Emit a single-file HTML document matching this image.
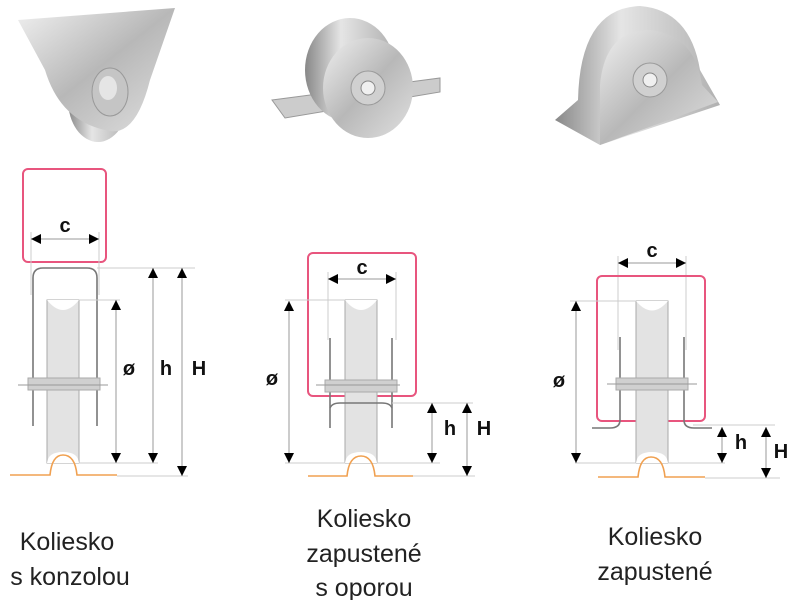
<!DOCTYPE html>
<html><head><meta charset="utf-8"><style>
body{margin:0;background:#fff}
svg{display:block}
text{font-family:"Liberation Sans",sans-serif}
.lab{font-size:25px;fill:#222;text-anchor:middle}
.b{font-size:20px;font-weight:bold;fill:#111;text-anchor:middle}
.ext{stroke:#ccc;stroke-width:1;fill:none}
.dim{stroke:#999;stroke-width:1}
.pink{fill:none;stroke:#e8557e;stroke-width:2}
.wh{fill:#e3e3e3;stroke:#aaa;stroke-width:1}
.ax{fill:#d0d0d0;stroke:#aaa;stroke-width:1}
.pl{stroke:#777;stroke-width:1.6;fill:none}
.rail{stroke:#f0a050;stroke-width:1.6;fill:none}
</style></head><body>
<svg width="789" height="600" viewBox="0 0 789 600" xmlns="http://www.w3.org/2000/svg">
<defs>
<linearGradient id="m" x1="0" y1="0" x2="1" y2="1"><stop offset="0" stop-color="#f0f0f0"/><stop offset=".5" stop-color="#b8b8b8"/><stop offset="1" stop-color="#e0e0e0"/></linearGradient>
<linearGradient id="m2" x1="0" y1="0" x2="1" y2="0"><stop offset="0" stop-color="#888"/><stop offset=".4" stop-color="#e5e5e5"/><stop offset="1" stop-color="#b0b0b0"/></linearGradient>
<marker id="a" viewBox="0 0 10 10" refX="10" refY="5" markerWidth="10" markerHeight="10" markerUnits="userSpaceOnUse" orient="auto-start-reverse"><path d="M0,0L10,5L0,10z" fill="#000"/></marker>
</defs>
<!-- photos -->
<ellipse cx="98" cy="100" rx="30" ry="42" fill="url(#m2)"/>
<path d="M18,20 L175,8 L150,80 Q135,140 105,130 Q60,120 45,70z" fill="url(#m)"/>
<ellipse cx="110" cy="92" rx="18" ry="24" fill="#c5c5c5" stroke="#999"/>
<ellipse cx="108" cy="88" rx="9" ry="12" fill="#e5e5e5"/>
<path d="M272,100 L440,78 L440,92 L285,118z" fill="#ccc" stroke="#999"/>
<ellipse cx="350" cy="70" rx="45" ry="52" fill="url(#m2)"/>
<ellipse cx="368" cy="88" rx="45" ry="50" fill="url(#m)"/>
<circle cx="368" cy="88" r="17" fill="#d0d0d0" stroke="#999"/>
<circle cx="368" cy="88" r="7" fill="#f0f0f0" stroke="#888"/>
<path d="M578,100 Q580,8 640,6 Q690,10 700,70 L720,105 L600,145 L555,120z" fill="url(#m2)"/>
<path d="M600,145 L600,85 Q605,30 650,30 Q695,35 702,85 L718,102z" fill="url(#m)"/>
<circle cx="650" cy="80" r="17" fill="#d0d0d0" stroke="#999"/>
<circle cx="650" cy="80" r="7" fill="#f0f0f0" stroke="#888"/>

<!-- Panel 1 -->
<rect class="pink" x="23" y="169" width="83" height="93" rx="5"/>
<line class="ext" x1="31" y1="232" x2="31" y2="295"/><line class="ext" x1="99" y1="232" x2="99" y2="295"/>
<line class="dim" x1="31" y1="239" x2="99" y2="239" marker-start="url(#a)" marker-end="url(#a)"/>
<text class="b" x="65" y="232">c</text>
<path class="pl" d="M33,426 L33,278 Q33,268 43,268 L87,268 Q97,268 97,278 L97,426" stroke="#888"/>
<rect class="wh" x="47" y="300" width="32" height="163"/>
<path d="M47,300 Q63,320 79,300z" fill="#fff"/>
<path d="M47,463 Q48,452 63,452 Q78,452 79,463z" fill="#fff"/>
<rect class="ax" x="28" y="378" width="72" height="12"/>
<line class="dim" x1="18" y1="385" x2="108" y2="385"/>
<line class="ext" x1="97" y1="268" x2="195" y2="268"/><line class="ext" x1="79" y1="300" x2="120" y2="300"/>
<line class="ext" x1="79" y1="463" x2="158" y2="463"/><line class="ext" x1="117" y1="476" x2="188" y2="476"/>
<line class="dim" x1="116" y1="300" x2="116" y2="463" marker-start="url(#a)" marker-end="url(#a)"/>
<line class="dim" x1="153" y1="268" x2="153" y2="463" marker-start="url(#a)" marker-end="url(#a)"/>
<line class="dim" x1="182" y1="268" x2="182" y2="476" marker-start="url(#a)" marker-end="url(#a)"/>
<text class="b" x="129" y="375">ø</text><text class="b" x="166" y="375">h</text><text class="b" x="199" y="375">H</text>
<path class="rail" d="M10,475 L50,475 Q52,455 63,455 Q75,455 77,475 L117,475"/>

<!-- Panel 2 -->
<rect class="pink" x="308" y="253" width="108" height="143" rx="5"/>
<line class="ext" x1="328" y1="272" x2="328" y2="340"/><line class="ext" x1="396" y1="272" x2="396" y2="340"/>
<line class="dim" x1="328" y1="279" x2="396" y2="279" marker-start="url(#a)" marker-end="url(#a)"/>
<text class="b" x="362" y="274">c</text>
<rect class="wh" x="345" y="300" width="32" height="163"/>
<path d="M345,300 Q361,320 377,300z" fill="#fff"/>
<path d="M345,463 Q346,452 361,452 Q376,452 377,463z" fill="#fff"/>
<line class="pl" x1="330" y1="338" x2="330" y2="428"/><line class="pl" x1="392" y1="338" x2="392" y2="428"/>
<path class="pl" d="M330,408 Q332,403 340,403 L382,403 Q390,403 392,408"/>
<rect class="ax" x="325" y="380" width="72" height="12"/>
<line class="dim" x1="316" y1="385" x2="400" y2="385"/>
<line class="ext" x1="285" y1="300" x2="345" y2="300"/><line class="ext" x1="285" y1="463" x2="345" y2="463"/>
<line class="ext" x1="392" y1="403" x2="473" y2="403"/><line class="ext" x1="377" y1="463" x2="440" y2="463"/><line class="ext" x1="410" y1="476" x2="475" y2="476"/>
<line class="dim" x1="289" y1="301" x2="289" y2="463" marker-start="url(#a)" marker-end="url(#a)"/>
<line class="dim" x1="432" y1="403" x2="432" y2="463" marker-start="url(#a)" marker-end="url(#a)"/>
<line class="dim" x1="467" y1="403" x2="467" y2="476" marker-start="url(#a)" marker-end="url(#a)"/>
<text class="b" x="272" y="385">ø</text><text class="b" x="450" y="435">h</text><text class="b" x="484" y="435">H</text>
<path class="rail" d="M308,476 L347,476 Q349,456 361,456 Q373,456 375,476 L413,476"/>

<!-- Panel 3 -->
<line class="ext" x1="618" y1="256" x2="618" y2="350"/><line class="ext" x1="686" y1="256" x2="686" y2="350"/>
<line class="dim" x1="618" y1="263" x2="686" y2="263" marker-start="url(#a)" marker-end="url(#a)"/>
<text class="b" x="652" y="257">c</text>
<rect class="pink" x="597" y="276" width="108" height="145" rx="5"/>
<rect class="wh" x="636" y="301" width="32" height="162"/>
<path d="M636,301 Q652,320 668,301z" fill="#fff"/>
<path d="M636,463 Q637,452 652,452 Q667,452 668,463z" fill="#fff"/>
<path class="pl" d="M620,337 L620,420 Q620,428 610,428 L592,428"/>
<path class="pl" d="M684,337 L684,420 Q684,428 694,428 L712,428"/>
<rect class="ax" x="616" y="378" width="72" height="12"/>
<line class="dim" x1="607" y1="384" x2="697" y2="384"/>
<line class="ext" x1="570" y1="301" x2="636" y2="301"/><line class="ext" x1="575" y1="463" x2="636" y2="463"/>
<line class="ext" x1="693" y1="425" x2="775" y2="425"/><line class="ext" x1="668" y1="463" x2="725" y2="463"/><line class="ext" x1="705" y1="478" x2="780" y2="478"/>
<line class="dim" x1="576" y1="301" x2="576" y2="463" marker-start="url(#a)" marker-end="url(#a)"/>
<line class="dim" x1="722" y1="427" x2="722" y2="463" marker-start="url(#a)" marker-end="url(#a)"/>
<line class="dim" x1="766" y1="427" x2="766" y2="478" marker-start="url(#a)" marker-end="url(#a)"/>
<text class="b" x="559" y="387">ø</text><text class="b" x="741" y="449">h</text><text class="b" x="781" y="458">H</text>
<path class="rail" d="M598,477 L638,477 Q640,457 651,457 Q663,457 665,477 L705,477"/>

<!-- labels -->
<text class="lab" x="67" y="550">Koliesko</text>
<text class="lab" x="70" y="585">s konzolou</text>
<text class="lab" x="364" y="527">Koliesko</text>
<text class="lab" x="364" y="562">zapustené</text>
<text class="lab" x="364" y="596">s oporou</text>
<text class="lab" x="655" y="545">Koliesko</text>
<text class="lab" x="655" y="580">zapustené</text>
</svg>
</body></html>
